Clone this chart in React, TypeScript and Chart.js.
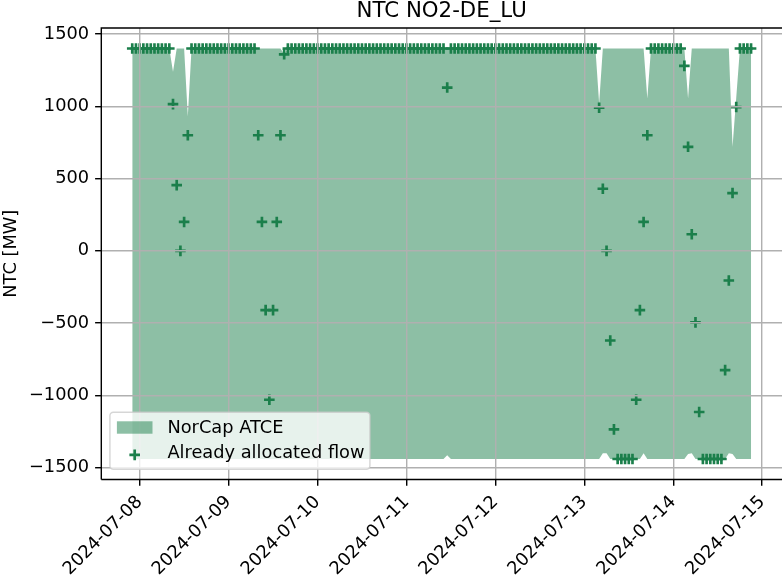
import { useEffect, useRef } from 'react';
import { Chart, registerables } from 'chart.js';

Chart.register(...registerables);

const W = 782;
const H = 576;
const FONT_FAMILY = 'DejaVu Sans';

const TITLE = 'NTC NO2-DE_LU';
const Y_LABEL = 'NTC [MW]';
const ATCE_LABEL = 'NorCap ATCE';
const FLOW_LABEL = 'Already allocated flow';

// hourly timestamps (UTC) start here
const START = '2024-07-07T22:00:00Z';
const REF = '2024-07-08T00:00:00Z';

const TICK_LABELS = [
  '2024-07-08', '2024-07-09', '2024-07-10', '2024-07-11',
  '2024-07-12', '2024-07-13', '2024-07-14', '2024-07-15',
];
const Y_TICKS = [-1500, -1000, -500, 0, 500, 1000, 1500];

const UPPER = [
  1400, 1400, 1400, 1400, 1400, 1400, 1400, 1400, 1400, 1400, 1400, 1240,
  1400, 1400, 1400, 930, 1400, 1400, 1400, 1400, 1400, 1400, 1400, 1400,
  1400, 1400, 1400, 1400, 1400, 1400, 1400, 1400, 1400, 1400, 1400, 1400,
  1400, 1400, 1400, 1400, 1400, 1360, 1400, 1400, 1400, 1400, 1400, 1400,
  1400, 1400, 1400, 1400, 1400, 1400, 1400, 1400, 1400, 1400, 1400, 1400,
  1400, 1400, 1400, 1400, 1400, 1400, 1400, 1400, 1400, 1400, 1400, 1400,
  1400, 1400, 1400, 1400, 1400, 1400, 1400, 1400, 1400, 1400, 1400, 1400,
  1400, 1400, 1400, 1400, 1400, 1400, 1400, 1400, 1400, 1400, 1400, 1400,
  1400, 1400, 1400, 1400, 1400, 1400, 1400, 1400, 1400, 1400, 1400, 1400,
  1400, 1400, 1400, 1400, 1400, 1400, 1400, 1400, 1400, 1400, 1400, 1400,
  1400, 1400, 1400, 1400, 1400, 1400, 1020, 1400, 1400, 1400, 1400, 1400,
  1400, 1400, 1400, 1400, 1400, 1400, 1400, 1055, 1400, 1400, 1400, 1400,
  1400, 1400, 1400, 1400, 1400, 1400, 1055, 1400, 1400, 1400, 1400, 1400,
  1400, 1400, 1400, 1400, 1400, 1400, 720, 1060, 1400, 1400, 1400, 1400,
];

const LOWER = [
  -1440, -1440, -1440, -1440, -1440, -1440, -1440, -1440, -1440, -1440, -1440, -1440,
  -1440, -1440, -1440, -1440, -1440, -1440, -1440, -1440, -1440, -1440, -1440, -1440,
  -1440, -1440, -1440, -1440, -1440, -1440, -1440, -1440, -1440, -1440, -1440, -1440,
  -1440, -1440, -1440, -1440, -1440, -1440, -1440, -1440, -1440, -1440, -1440, -1440,
  -1440, -1440, -1440, -1440, -1440, -1440, -1440, -1440, -1440, -1440, -1440, -1440,
  -1440, -1440, -1440, -1440, -1440, -1440, -1440, -1440, -1440, -1440, -1440, -1440,
  -1440, -1440, -1440, -1440, -1440, -1440, -1440, -1440, -1440, -1440, -1440, -1440,
  -1440, -1415, -1440, -1440, -1440, -1440, -1440, -1440, -1440, -1440, -1440, -1440,
  -1440, -1440, -1440, -1440, -1440, -1440, -1440, -1440, -1440, -1440, -1440, -1440,
  -1440, -1440, -1440, -1440, -1440, -1440, -1440, -1440, -1440, -1440, -1440, -1440,
  -1440, -1440, -1440, -1440, -1440, -1440, -1440, -1400, -1400, -1440, -1440, -1440,
  -1440, -1440, -1440, -1440, -1440, -1440, -1400, -1440, -1440, -1440, -1440, -1440,
  -1440, -1440, -1440, -1440, -1440, -1440, -1405, -1400, -1440, -1440, -1440, -1440,
  -1440, -1440, -1440, -1440, -1440, -1400, -1405, -1440, -1440, -1440, -1440, -1440,
];

const FLOW = [
  1400, 1400, 1400, 1400, 1400, 1400, 1400, 1400, 1400, 1400, 1400, 1015,
  455, 0, 200, 800, 1400, 1400, 1400, 1400, 1400, 1400, 1400, 1400,
  1400, 1400, 1400, 1400, 1400, 1400, 1400, 1400, 1400, 1400, 800, 200,
  -410, -1030, -410, 200, 800, 1360, 1400, 1400, 1400, 1400, 1400, 1400,
  1400, 1400, 1400, 1400, 1400, 1400, 1400, 1400, 1400, 1400, 1400, 1400,
  1400, 1400, 1400, 1400, 1400, 1400, 1400, 1400, 1400, 1400, 1400, 1400,
  1400, 1400, 1400, 1400, 1400, 1400, 1400, 1400, 1400, 1400, 1400, 1400,
  1400, 1130, 1400, 1400, 1400, 1400, 1400, 1400, 1400, 1400, 1400, 1400,
  1400, 1400, 1400, 1400, 1400, 1400, 1400, 1400, 1400, 1400, 1400, 1400,
  1400, 1400, 1400, 1400, 1400, 1400, 1400, 1400, 1400, 1400, 1400, 1400,
  1400, 1400, 1400, 1400, 1400, 1400, 990, 430, 0, -620, -1235, -1440,
  -1440, -1440, -1440, -1440, -1030, -410, 200, 800, 1400, 1400, 1400, 1400,
  1400, 1400, 1400, 1400, 1400, 1280, 720, 115, -495, -1115, -1440, -1440,
  -1440, -1440, -1440, -1440, -825, -205, 400, 995, 1400, 1400, 1400, 1400,
];

const GREEN = '#1b7f4b';
const FILL = 'rgba(27,127,75,0.5)';
const GRID = '#b0b0b0';

const fmtY = (v: number) => (v < 0 ? '\u2212' + Math.abs(v) : String(v));

export default function App() {
  const ref = useRef<HTMLCanvasElement>(null);

  useEffect(() => {
    const canvas = ref.current;
    if (!canvas) return;
    const hour = 3.6e6;
    const t0 = (Date.parse(START) - Date.parse(REF)) / hour;
    const xs = FLOW.map((_, i) => t0 + i);
    const xPad = 0.05 * (xs[xs.length - 1] - xs[0]);
    const allY = [...UPPER, ...LOWER, ...FLOW];
    const yLo = Math.min(...allY);
    const yHi = Math.max(...allY);
    const yPad = 0.05 * (yHi - yLo);
    const tickVals = TICK_LABELS.map((l) => (Date.parse(l + 'T00:00:00Z') - Date.parse(REF)) / hour);

    const FS = 17.8;
    const font = { family: FONT_FAMILY, size: FS };
    const LW = 1.42;

    const decor = {
      id: 'decor',
      afterDraw(chart: any) {
        const { ctx, chartArea: a } = chart;
        ctx.save();
        // spines
        ctx.strokeStyle = '#000';
        ctx.lineWidth = LW;
        ctx.beginPath();
        ctx.moveTo(a.left, a.bottom);
        ctx.lineTo(a.left, a.top);
        ctx.lineTo(a.right, a.top);
        ctx.moveTo(a.left, a.bottom);
        ctx.lineTo(a.right, a.bottom);
        ctx.stroke();
        // title
        ctx.fillStyle = '#000';
        ctx.font = `21.3px "${FONT_FAMILY}"`;
        ctx.textAlign = 'center';
        ctx.textBaseline = 'alphabetic';
        ctx.fillText(TITLE, (a.left + a.right) / 2, a.top - 10.7);
        // legend
        const bx = a.left + 8.6;
        const by = 412.3;
        const bw = 260;
        const bh = 57;
        ctx.beginPath();
        ctx.roundRect(bx, by, bw, bh, 3.5);
        ctx.fillStyle = 'rgba(255,255,255,0.8)';
        ctx.fill();
        ctx.strokeStyle = 'rgba(204,204,204,0.8)';
        ctx.lineWidth = LW;
        ctx.stroke();
        ctx.fillStyle = FILL;
        ctx.fillRect(bx + 7, by + 9, 35.6, 12.4);
        ctx.strokeStyle = GREEN;
        ctx.lineWidth = 2.67;
        const mx = bx + 24.8;
        const my = by + 42.6;
        ctx.beginPath();
        ctx.moveTo(mx - 5.3, my);
        ctx.lineTo(mx + 5.3, my);
        ctx.moveTo(mx, my - 5.3);
        ctx.lineTo(mx, my + 5.3);
        ctx.stroke();
        ctx.fillStyle = '#000';
        ctx.font = `${FS}px "${FONT_FAMILY}"`;
        ctx.textAlign = 'left';
        ctx.fillText(chart.data.datasets[1].label, bx + 57.5, by + 20.5);
        ctx.fillText(chart.data.datasets[0].label, bx + 57.5, by + 46);
        ctx.restore();
      },
    };

    const chart = new Chart(canvas, {
      type: 'line',
      data: {
        datasets: [
          {
            type: 'scatter',
            label: FLOW_LABEL,
            data: xs.map((x, i) => ({ x, y: FLOW[i] })),
            showLine: false,
            pointStyle: 'cross',
            pointRadius: 5.3,
            pointBorderWidth: 2.67,
            pointBorderColor: GREEN,
            pointBackgroundColor: GREEN,
            borderColor: GREEN,
            backgroundColor: GREEN,
            order: 0,
          } as any,
          {
            type: 'line',
            label: ATCE_LABEL,
            data: xs.map((x, i) => ({ x, y: UPPER[i] })),
            borderColor: 'rgba(0,0,0,0)',
            borderWidth: 0,
            pointRadius: 0,
            tension: 0,
            fill: '+1',
            backgroundColor: FILL,
            order: 1,
          },
          {
            type: 'line',
            label: 'lower',
            data: xs.map((x, i) => ({ x, y: LOWER[i] })),
            borderColor: 'rgba(0,0,0,0)',
            borderWidth: 0,
            pointRadius: 0,
            tension: 0,
            fill: false,
            order: 1,
          },
        ],
      },
      options: {
        animation: false,
        responsive: false,
        devicePixelRatio: 1,
        events: [],
        layout: { autoPadding: false, padding: { top: 28, left: 0, right: 0, bottom: 0 } },
        plugins: {
          legend: { display: false },
          title: { display: false },
          tooltip: { enabled: false },
        },
        scales: {
          x: {
            type: 'linear',
            min: xs[0] - xPad,
            max: xs[xs.length - 1] + xPad,
            afterBuildTicks: (s: any) => {
              s.ticks = tickVals.map((v) => ({ value: v }));
            },
            afterFit: (s: any) => {
              s.height = 96.5;
              s.paddingLeft = 0;
              s.paddingRight = 0;
            },
            ticks: {
              callback: (v: any) => {
                const idx = tickVals.indexOf(v);
                return idx >= 0 ? TICK_LABELS[idx] : '';
              },
              minRotation: 45,
              maxRotation: 45,
              autoSkip: false,
              padding: 6,
              color: '#000',
              font,
            },
            grid: {
              color: GRID,
              lineWidth: LW,
              tickColor: '#000',
              tickWidth: LW,
              tickLength: 6.2,
              z: 1,
            },
            border: { display: false },
          },
          y: {
            type: 'linear',
            min: yLo - yPad,
            max: yHi + yPad,
            afterBuildTicks: (s: any) => {
              s.ticks = Y_TICKS.map((v) => ({ value: v }));
            },
            afterFit: (s: any) => {
              s.width = 101.3;
              s.paddingTop = 0;
              s.paddingBottom = 0;
            },
            ticks: {
              callback: (v: any) => fmtY(Number(v)),
              padding: 6,
              color: '#000',
              font,
            },
            grid: {
              color: GRID,
              lineWidth: LW,
              tickColor: '#000',
              tickWidth: LW,
              tickLength: 6.2,
              z: 1,
            },
            border: { display: false },
            title: {
              display: true,
              text: Y_LABEL,
              color: '#000',
              font,
              padding: { top: 1, bottom: 0 },
            },
          },
        },
      },
      plugins: [decor],
    } as any);

    return () => chart.destroy();
  }, []);

  return (
    <div style={{ position: 'absolute', left: 0, top: 0, width: W, height: H, background: '#fff' }}>
      <canvas ref={ref} width={W} height={H} style={{ display: 'block', width: W, height: H }} />
    </div>
  );
}
